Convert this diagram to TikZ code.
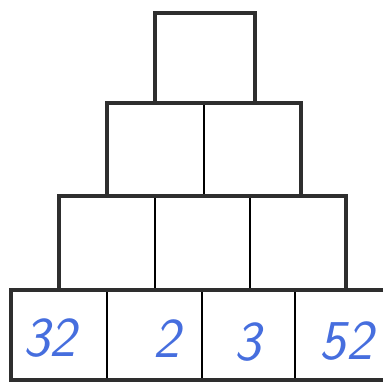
\documentclass[tikz,border=0pt]{standalone}
\usetikzlibrary{positioning}
\definecolor{penblue}{RGB}{70,110,222}

\begin{document}
\begin{tikzpicture}[
  x=0.025cm, y=-0.025cm,
  cell/.style 2 args={minimum width=#1*0.025cm, minimum height=#2*0.025cm,
               inner sep=0pt, outer sep=0pt},
  divider/.style={draw, line width=1.3pt},
  rowframe/.style={draw=black!82, line width=3.4pt},
  num/.style={text=penblue, inner sep=0pt, font=\fontsize{40}{40}\selectfont\sffamily\itshape},
]
\useasboundingbox (0,0) rectangle (383,383);

% top row
\node[cell={100}{90}] (c11) at (205,58) {};
% second row
\node[cell={97}{93}] (c21) at (155.5,149.5) {};
\node[cell={97}{93}] (c22) at (252.5,149.5) {};
% third row
\node[cell={96}{94}] (c31) at (107,243) {};
\node[cell={95}{94}] (c32) at (202.5,243) {};
\node[cell={96}{94}] (c33) at (298,243) {};
% bottom row, cut off on the right
\node[cell={96}{90}] (c41) at (59,335) {};
\node[cell={95}{90}] (c42) at (154.5,335) {};
\node[cell={93}{90}] (c43) at (248.5,335) {};
\node[cell={88}{90}] (c44) at (339,335) {};

% thin lines between neighbouring cells
\foreach \a/\b in {21/22, 31/32, 32/33, 41/42, 42/43, 43/44}
  \draw[divider] (c\a.north east) -- (c\a.south east);

% thick outline of each row
\foreach \r in {1,...,3}
  \draw[rowframe] (c\r1.north west) rectangle (c\r\r.south east);
\draw[rowframe] (c44.north east) -- (c41.north west) -- (c41.south west) -- (c44.south east);

% given numbers in the bottom row
\node[num] (v1) at (50,338)  {32};
\node[num] (v2) at (167,339) {2};
\node[num] (v3) at (248,342) {3};
\node[num] (v4) at (346,341) {52};
\end{tikzpicture}
\end{document}
